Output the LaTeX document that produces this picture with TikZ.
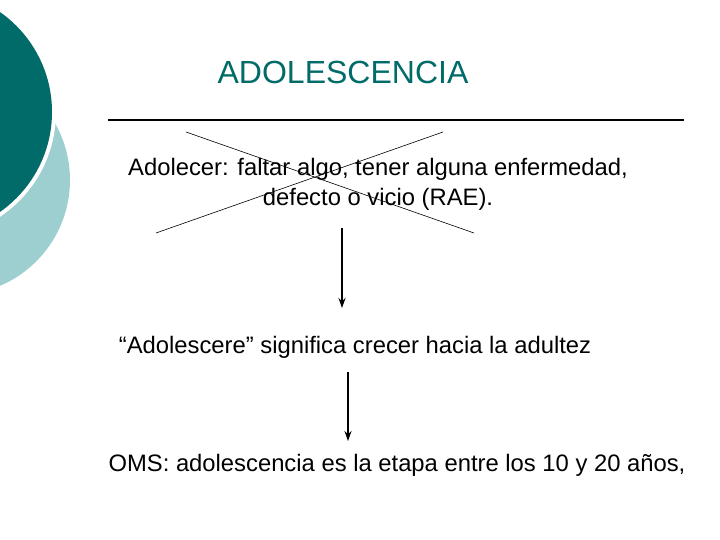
\documentclass[tikz,border=0pt]{standalone}
\usepackage{fontspec}
\setmainfont{Liberation Sans}
\usetikzlibrary{arrows.meta}
\definecolor{teal1}{HTML}{006B68}
\definecolor{teal2}{HTML}{9ECFD0}
\begin{document}
\begin{tikzpicture}[x=1pt,y=-1pt,
 txt/.style={inner sep=0pt,font=\fontsize{23.8}{30}\selectfont},
 arr/.style={-{Stealth[length=10pt,width=7pt]},line width=1.2pt}]
\useasboundingbox (0,0) rectangle (720,540);
\begin{scope}
\clip (0,0) rectangle (720,540);
\fill[teal2] (-45,180) circle (115);
\fill[white] (-70,112) circle (126);
\fill[teal1] (-70,112) circle (122);
\end{scope}
\node[inner sep=0pt,text=teal1,font=\fontsize{32}{38}\selectfont] (t) at (343,72) {ADOLESCENCIA};
\coordinate (l1) at (108,120); \coordinate (l2) at (684,120);
\draw[line width=1.2pt] (l1) -- (l2);
\node[txt,align=center] (a) at (378,184) {Adolecer: faltar algo, tener alguna enfermedad,\\ defecto o vicio (RAE).};
\coordinate (c1) at (186,132); \coordinate (c2) at (474,233);
\coordinate (c3) at (443,132); \coordinate (c4) at (156,233);
\draw[line width=0.6pt] (c1) -- (c2);
\draw[line width=0.6pt] (c3) -- (c4);
\node[txt] (b) at (355,347) {“Adolescere” significa crecer hacia la adultez};
\node[txt] (c) at (397,465) {OMS: adolescencia es la etapa entre los 10 y 20 años,};
\coordinate (p1) at (342,228); \coordinate (p2) at (342,308);
\coordinate (q1) at (348,372); \coordinate (q2) at (348,441);
\draw[arr] (p1) -- (p2);
\draw[arr] (q1) -- (q2);
\end{tikzpicture}
\end{document}
